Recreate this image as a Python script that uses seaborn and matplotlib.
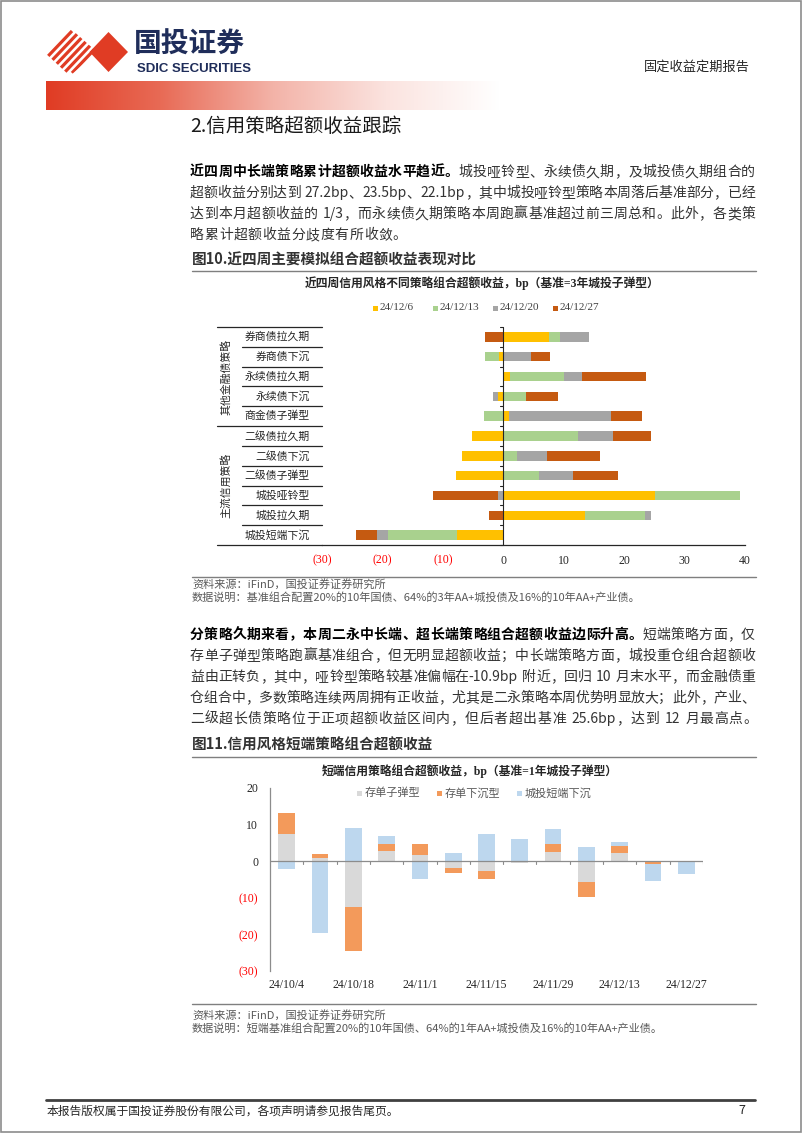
import numpy as np
import matplotlib
matplotlib.use("Agg")
import matplotlib.pyplot as plt
import seaborn as sns
from matplotlib.patches import Rectangle, Polygon
from matplotlib.font_manager import FontProperties
from matplotlib.colors import LinearSegmentedColormap

# ---------------- data ----------------
categories1 = ['券商债拉久期', '券商债下沉', '永续债拉久期', '永续债下沉', '商金债子弹型',
               '二级债拉久期', '二级债下沉', '二级债子弹型', '城投哑铃型', '城投拉久期', '城投短端下沉']
series1_names = ['24/12/6', '24/12/13', '24/12/20', '24/12/27']
w1206 = [7.5, -0.7, 1.1, -0.9, 0.9, -5.2, -6.9, -7.8, 25.1, 13.6, -7.7]
w1213 = [1.9, -2.4, 9.0, 3.8, -3.2, 12.3, 2.2, 5.9, 14.0, 9.9, -11.3]
w1220 = [4.8, 4.6, 2.9, -0.8, 17.0, 5.8, 5.1, 5.6, -0.9, 0.9, -1.9]
w1227 = [-3.1, 3.1, 10.6, 5.2, 5.0, 6.3, 8.7, 7.5, -10.7, -2.4, -3.5]
xticks1 = [-30, -20, -10, 0, 10, 20, 30, 40]
xlabels1 = ['(30)', '(20)', '(10)', '0', '10', '20', '30', '40']
groups1 = ['其他金融债策略', '主流信用策略']

dates2 = ['24/10/4', '24/10/11', '24/10/18', '24/10/25', '24/11/1', '24/11/8', '24/11/15',
          '24/11/22', '24/11/29', '24/12/6', '24/12/13', '24/12/20', '24/12/27']
series2_names = ['存单子弹型', '存单下沉型', '城投短端下沉']
cd_bullet = [7.5, 0.8, -12.6, 2.9, 1.7, -1.8, -2.7, -0.6, 2.6, -5.7, 2.2, -0.2, 0.1]
cd_sink = [5.7, 1.2, -11.8, 1.7, 2.9, -1.5, -2.1, 0.0, 2.1, -4.1, 1.9, -0.6, 0.0]
ct_short = [-2.1, -19.7, 9.1, 2.4, -4.8, 2.3, 7.3, 6.1, 4.1, 3.9, 1.2, -4.6, -3.4]
yticks2 = [-30, -20, -10, 0, 10, 20]
ylabels2 = ['(30)', '(20)', '(10)', '0', '10', '20']

colors1 = ['#FFC000', '#A9D18E', '#A5A5A5', '#C55A11']
colors2 = ['#D9D9D9', '#F39A5B', '#BDD7EE']
RED = '#FF0000'

# ---------------- style ----------------
sns.set_style('white')
CJK = ['Noto Sans CJK SC', 'DejaVu Sans']
SERIF = ['Liberation Serif', 'Noto Sans CJK SC']
plt.rcParams['font.family'] = CJK
plt.rcParams['axes.unicode_minus'] = False

W, H = 802, 1133
fig = plt.figure(figsize=(W / 100, H / 100), dpi=100)
fig.patch.set_facecolor('white')


def rect(x0, y0, x1, y1):
    return [x0 / W, 1 - y1 / H, (x1 - x0) / W, (y1 - y0) / H]


def stacked(ax, cats, series, colors, width, horizontal):
    s = np.array(series, dtype=float)
    pos = np.cumsum(np.clip(s, 0, None), axis=0)
    neg = np.cumsum(np.clip(s, None, 0), axis=0)
    for k in range(len(s) - 1, -1, -1):
        for cum in (pos[k], neg[k]):
            if horizontal:
                sns.barplot(x=cum, y=cats, order=cats, orient='h', color=colors[k], saturation=1,
                            width=width, errorbar=None, linewidth=0, edgecolor='none', ax=ax)
            else:
                sns.barplot(x=cats, y=cum, order=cats, color=colors[k], saturation=1,
                            width=width, errorbar=None, linewidth=0, edgecolor='none', ax=ax)


# ---------------- chart 1 ----------------
ax1 = fig.add_axes(rect(322, 327, 745, 545))
stacked(ax1, categories1, [w1206, w1213, w1220, w1227], colors1, 0.48, True)
ax1.set_facecolor('none')
ax1.set_xlim(-30, 40)
ax1.set_ylim(len(categories1) - 0.5, -0.5)
ax1.set_xlabel('')
ax1.set_ylabel('')
ax1.set_yticks([])
ax1.set_xticks(xticks1)
ax1.set_xticklabels(xlabels1)
for sp in ['top', 'right', 'left']:
    ax1.spines[sp].set_visible(False)
ax1.spines['bottom'].set_color('#262626')
ax1.spines['bottom'].set_linewidth(0.9)
ax1.tick_params(axis='x', direction='in', length=3, width=0.8, color='#262626', pad=7, labelsize=8.5)
for lbl, v in zip(ax1.get_xticklabels(), xticks1):
    lbl.set_color(RED if v < 0 else '#262626')
    lbl.set_fontfamily(SERIF)
ax1.axvline(0, color='#262626', lw=0.8, zorder=5)
for b in np.arange(-0.5, len(categories1), 1):
    ax1.plot([-0.55, 0], [b, b], color='#262626', lw=0.8, zorder=5, clip_on=False)

# ---------------- chart 2 ----------------
ax2 = fig.add_axes(rect(270, 788, 703, 971))
stacked(ax2, dates2, [cd_bullet, cd_sink, ct_short], colors2, 0.5, False)
ax2.set_facecolor('none')
ax2.set_ylim(-30, 20)
ax2.set_xlim(-0.5, len(dates2) - 0.5)
ax2.set_xlabel('')
ax2.set_ylabel('')
ax2.set_yticks(yticks2)
ax2.set_yticklabels(ylabels2)
ax2.set_xticks(range(0, len(dates2), 2))
ax2.set_xticklabels(dates2[::2])
for sp in ['top', 'right', 'bottom']:
    ax2.spines[sp].set_visible(False)
ax2.spines['left'].set_color('#8c8c8c')
ax2.spines['left'].set_linewidth(0.9)
ax2.tick_params(axis='y', direction='out', length=2.5, width=0.8, color='#8c8c8c', pad=6, labelsize=8.5)
ax2.tick_params(axis='x', length=0, pad=5.5, labelsize=8.5)
for lbl, v in zip(ax2.get_yticklabels(), yticks2):
    lbl.set_color(RED if v < 0 else '#262626')
    lbl.set_fontfamily(SERIF)
for lbl in ax2.get_xticklabels():
    lbl.set_color('#262626')
    lbl.set_fontfamily(SERIF)
ax2.axhline(0, color='#8c8c8c', lw=0.9, zorder=5)
for b in np.arange(0.5, len(dates2), 1):
    ax2.plot([b, b], [-0.8, 0], color='#8c8c8c', lw=0.8, zorder=5)

# ---------------- page overlay ----------------
ov = fig.add_axes([0, 0, 1, 1])
ov.set_zorder(10)
ov.axis('off')

# header gradient band
cmap = LinearSegmentedColormap.from_list('g', ['#E03C24', '#E86A55', '#F3B3A8', '#FBE3DF', '#FFFFFF'])
ov.imshow(np.linspace(0, 1, 256)[None, :], cmap=cmap, extent=(46, 500, 110, 81),
          aspect='auto', interpolation='bilinear')
ov.set_xlim(0, W)
ov.set_ylim(H, 0)

# logo
ov.add_patch(Polygon([(89.5, 52), (108.5, 32), (128, 52), (108.5, 72)], closed=True,
                     fc='#E03C24', ec='none'))
clip = Polygon([(44, 52), (70, 28), (97, 52), (70, 76)], closed=True, transform=ov.transData)
for xc in [52, 60, 68, 76, 84, 92]:
    ln, = ov.plot([xc - 20, xc + 20], [73, 31], color='#E03C24', lw=2.3, solid_capstyle='butt')
    ln.set_clip_path(clip)
ov.text(134, 45, '国投证券', fontsize=20, fontweight='bold', color='#1F2D5A', ha='left', va='center')
ov.text(137, 68.5, 'SDIC SECURITIES', fontsize=9.5, fontweight='bold', color='#1F2D5A',
        ha='left', va='center', family=['Liberation Sans', 'DejaVu Sans'])
ov.text(697, 67, '固定收益定期报告', fontsize=9.5, color='#262626', ha='center', va='center')

# page border
ov.add_patch(Rectangle((1, 1), W - 2, H - 2, fill=False, ec='#8c8c8c', lw=1.2))

# section title
ov.text(190, 126, '2.信用策略超额收益跟踪', fontsize=14, color='#1a1a1a', ha='left', va='center')

renderer = fig.canvas.get_renderer()


def text_line(y, segs, x0=190, x1=755, size=10, justify=True):
    props = {b: FontProperties(family=CJK, size=size, weight='bold' if b else 'normal')
             for b in (True, False)}
    toks = []
    for s, bold in segs:
        buf = ''
        for ch in s:
            if ch == ' ':
                if buf:
                    toks.append((buf, bold))
                    buf = ''
                toks.append((' ', bold))
            elif ord(ch) < 128:
                buf += ch
            else:
                if buf:
                    toks.append((buf, bold))
                    buf = ''
                toks.append((ch, bold))
        if buf:
            toks.append((buf, bold))
    em = size * 100 / 72
    widths = []
    for t, b in toks:
        if t == ' ':
            widths.append(0.3 * em)
        else:
            widths.append(renderer.get_text_width_height_descent(t, props[b], ismath=False)[0])
    gap = (x1 - x0 - sum(widths)) / (len(toks) - 1) if (justify and len(toks) > 1) else 0.6
    x = x0
    for (t, b), w in zip(toks, widths):
        if t != ' ':
            ov.text(x, y + 0.36 * em, t, fontproperties=props[b],
                    color='#000000' if b else '#333333', ha='left', va='baseline')
        x += w + gap


para1 = [
    [('近四周中长端策略累计超额收益水平趋近。', True), ('城投哑铃型、永续债久期，及城投债久期组合的', False)],
    [('超额收益分别达到 27.2bp、23.5bp、22.1bp，其中城投哑铃型策略本周落后基准部分，已经', False)],
    [('达到本月超额收益的 1/3，而永续债久期策略本周跑赢基准超过前三周总和。此外，各类策', False)],
    [('略累计超额收益分歧度有所收敛。', False)],
]
for i, segs in enumerate(para1):
    text_line(171 + 21 * i, segs, justify=(i < len(para1) - 1))

para2 = [
    [('分策略久期来看，本周二永中长端、超长端策略组合超额收益边际升高。', True), ('短端策略方面，仅', False)],
    [('存单子弹型策略跑赢基准组合，但无明显超额收益；中长端策略方面，城投重仓组合超额收', False)],
    [('益由正转负，其中，哑铃型策略较基准偏幅在-10.9bp 附近，回归 10 月末水平，而金融债重', False)],
    [('仓组合中，多数策略连续两周拥有正收益，尤其是二永策略本周优势明显放大；此外，产业、', False)],
    [('二级超长债策略位于正项超额收益区间内，但后者超出基准 25.6bp，达到 12 月最高点。', False)],
]
for i, segs in enumerate(para2):
    text_line(634 + 21 * i, segs, justify=(i < len(para2) - 1))

# captions
ov.text(192, 260, '图10.近四周主要模拟组合超额收益表现对比', fontsize=10.5, fontweight='bold',
        color='#333333', ha='left', va='center')
ov.plot([192, 756], [271, 271], color='#7f7f7f', lw=1)
ov.text(192, 745, '图11.信用风格短端策略组合超额收益', fontsize=10.5, fontweight='bold',
        color='#333333', ha='left', va='center')
ov.plot([192, 756], [757, 757], color='#7f7f7f', lw=1)

# chart titles
ov.text(482, 283, '近四周信用风格不同策略组合超额收益，bp（基准=3年城投子弹型）', fontsize=8.5,
        fontweight='bold', color='#262626', ha='center', va='center', family=SERIF)
ov.text(470, 771, '短端信用策略组合超额收益，bp（基准=1年城投子弹型）', fontsize=8.5,
        fontweight='bold', color='#262626', ha='center', va='center', family=SERIF)

# legend chart 1
for name, col, xs in zip(series1_names, colors1, [373, 433, 493, 553]):
    ov.add_patch(Rectangle((xs, 305.5), 5, 5, fc=col, ec='none'))
    ov.text(xs + 7, 308, name, fontsize=8, color='#404040', ha='left', va='center', family=SERIF)

# legend chart 2
for name, col, xs in zip(series2_names, colors2, [357, 437, 517]):
    ov.add_patch(Rectangle((xs, 790.5), 5, 5, fc=col, ec='none'))
    ov.text(xs + 8, 793, name, fontsize=8, color='#595959', ha='left', va='center')

# category table for chart 1
n1 = len(categories1)
rowh = (545 - 327) / n1
for k in range(n1 + 1):
    yb = 327 + rowh * k
    xs = 217 if k in (0, 5, n1) else 242
    ov.plot([xs, 322], [yb, yb], color='#262626', lw=0.9)
for i, c in enumerate(categories1):
    ov.text(310, 327 + rowh * (i + 0.5), c, fontsize=7.8, color='#262626', ha='right', va='center')
ov.text(226, 327 + rowh * 2.5, groups1[0], fontsize=7.8, color='#262626', rotation=90,
        ha='center', va='center')
ov.text(226, 327 + rowh * 8.0, groups1[1], fontsize=7.8, color='#262626', rotation=90,
        ha='center', va='center')

# notes
note_kw = dict(fontsize=8, color='#595959', style='italic', ha='left', va='center')
ov.plot([192, 756], [577, 577], color='#7f7f7f', lw=1)
ov.text(192, 584, '资料来源：iFinD，国投证券证券研究所', **note_kw)
ov.text(192, 597, '数据说明：基准组合配置20%的10年国债、64%的3年AA+城投债及16%的10年AA+产业债。', **note_kw)
ov.plot([192, 756], [1004, 1004], color='#7f7f7f', lw=1)
ov.text(192, 1015, '资料来源：iFinD，国投证券证券研究所', **note_kw)
ov.text(192, 1028, '数据说明：短端基准组合配置20%的10年国债、64%的1年AA+城投债及16%的10年AA+产业债。', **note_kw)

# footer
ov.plot([46, 755], [1100, 1100], color='#404040', lw=2)
ov.text(47, 1111, '本报告版权属于国投证券股份有限公司，各项声明请参见报告尾页。', fontsize=8.5,
        color='#262626', ha='left', va='center')
ov.text(742, 1111, '7', fontsize=9, color='#262626', ha='center', va='center')

fig.savefig('out.png', dpi=100, facecolor='white')
